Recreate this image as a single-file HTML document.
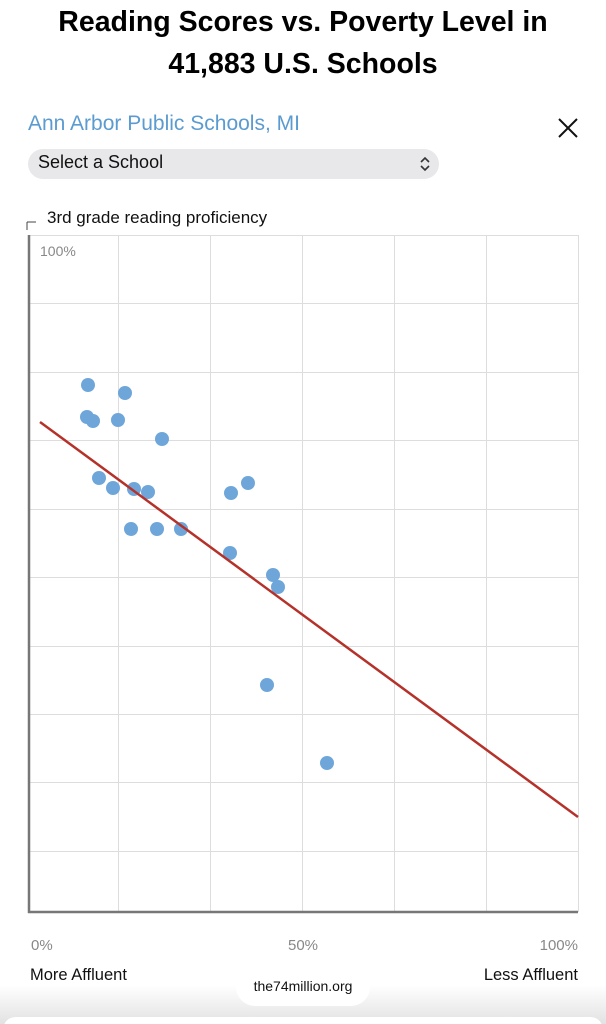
<!DOCTYPE html>
<html><head><style>
body{margin:0;width:606px;height:1024px;background:#fff;font-family:"Liberation Sans",sans-serif;position:relative;overflow:hidden}
.t{position:absolute;left:0;width:606px;text-align:center;font-weight:bold;font-size:28.5px;line-height:42px;top:1px;color:#000}
</style></head><body>
<div class="t">Reading Scores vs. Poverty Level in<br>41,883 U.S. Schools</div>
<div style="position:absolute;left:28px;top:112px;font-size:21px;color:#5b9bd0">Ann Arbor Public Schools, MI</div>
<svg style="position:absolute;left:558px;top:118px" width="20" height="20"><path d="M1 1L19 19M19 1L1 19" stroke="#111" stroke-width="2"/></svg>
<div style="position:absolute;left:28px;top:149px;width:411px;height:30px;border-radius:15px;background:#e8e8ea"></div>
<div style="position:absolute;left:38px;top:152px;font-size:18px;color:#111">Select a School</div>
<svg style="position:absolute;left:420px;top:156px" width="10" height="16"><path d="M1 6L5 2L9 6M1 10L5 14L9 10" stroke="#333" stroke-width="1.6" fill="none"/></svg>
<div style="position:absolute;left:47px;top:208px;font-size:17px;color:#111">3rd grade reading proficiency</div>
<svg style="position:absolute;left:0;top:0" width="606" height="1024">
<path d="M27 222h9M27 222v8" stroke="#444" fill="none"/>
<g stroke="#ddd" stroke-width="1">
<line x1="29" y1="235.5" x2="578" y2="235.5"/><line x1="29" y1="303.5" x2="578" y2="303.5"/><line x1="29" y1="372.5" x2="578" y2="372.5"/><line x1="29" y1="440.5" x2="578" y2="440.5"/><line x1="29" y1="509.5" x2="578" y2="509.5"/><line x1="29" y1="577.5" x2="578" y2="577.5"/><line x1="29" y1="646.5" x2="578" y2="646.5"/><line x1="29" y1="714.5" x2="578" y2="714.5"/><line x1="29" y1="782.5" x2="578" y2="782.5"/><line x1="29" y1="851.5" x2="578" y2="851.5"/>
<line x1="118.5" y1="235" x2="118.5" y2="912"/><line x1="210.5" y1="235" x2="210.5" y2="912"/><line x1="302.5" y1="235" x2="302.5" y2="912"/><line x1="394.5" y1="235" x2="394.5" y2="912"/><line x1="486.5" y1="235" x2="486.5" y2="912"/><line x1="578.5" y1="235" x2="578.5" y2="912"/>
</g>
<line x1="29" y1="235" x2="29" y2="913" stroke="#777" stroke-width="2.5"/>
<line x1="28" y1="912" x2="578" y2="912" stroke="#777" stroke-width="2.5"/>
<text x="40" y="256" font-size="14" fill="#888" font-family="Liberation Sans">100%</text>
<g fill="#6fa6da">
<circle cx="88" cy="385" r="7"/><circle cx="125" cy="393" r="7"/><circle cx="87" cy="417" r="7"/><circle cx="93" cy="421" r="7"/><circle cx="118" cy="420" r="7"/><circle cx="162" cy="439" r="7"/><circle cx="99" cy="478" r="7"/><circle cx="113" cy="488" r="7"/><circle cx="134" cy="489" r="7"/><circle cx="148" cy="492" r="7"/><circle cx="131" cy="529" r="7"/><circle cx="157" cy="529" r="7"/><circle cx="181" cy="529" r="7"/><circle cx="231" cy="493" r="7"/><circle cx="248" cy="483" r="7"/><circle cx="230" cy="553" r="7"/><circle cx="273" cy="575" r="7"/><circle cx="278" cy="587" r="7"/><circle cx="267" cy="685" r="7"/><circle cx="327" cy="763" r="7"/>
</g>
<line x1="40" y1="422" x2="578" y2="817" stroke="#b5322a" stroke-width="2.5"/>
<text x="31" y="950" font-size="15" fill="#888" font-family="Liberation Sans">0%</text>
<text x="288" y="950" font-size="15" fill="#888" font-family="Liberation Sans">50%</text>
<text x="578" y="950" font-size="15" fill="#888" text-anchor="end" font-family="Liberation Sans">100%</text>
<text x="30" y="980" font-size="16.5" fill="#111" font-family="Liberation Sans">More Affluent</text>
<text x="578" y="980" font-size="16.5" fill="#111" text-anchor="end" font-family="Liberation Sans">Less Affluent</text>
<defs><linearGradient id="g" x1="0" y1="0" x2="0" y2="1"><stop offset="0" stop-color="#fff"/><stop offset="1" stop-color="#e2e2e3"/></linearGradient></defs>
<rect x="0" y="985" width="606" height="39" fill="url(#g)"/>
<rect x="4" y="1017" width="598" height="20" rx="12" fill="#fff"/>
<rect x="236" y="967" width="134" height="39" rx="19" fill="#fff"/>
<text x="303" y="991" font-size="14" fill="#111" text-anchor="middle" font-family="Liberation Sans">the74million.org</text>
</svg>
</body></html>
